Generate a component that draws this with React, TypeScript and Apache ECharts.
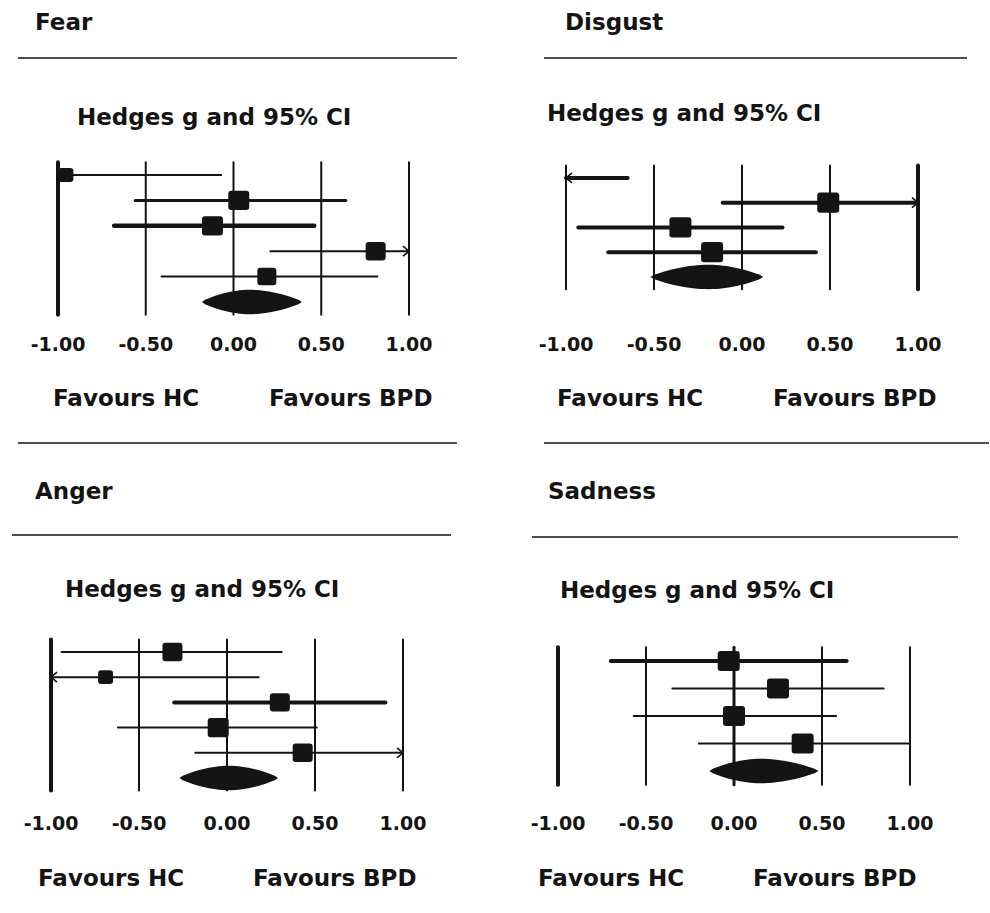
import React, { useEffect, useRef } from "react";
import * as echarts from "echarts";

// ---------- data ----------
const TICKS = [-1, -0.5, 0, 0.5, 1];

// Fear
const fearG = [-0.955, 0.03, -0.12, 0.81, 0.19];
const fearLo = [-1.0, -0.56, -0.68, 0.21, -0.41];
const fearHi = [-0.07, 0.64, 0.46, 1.15, 0.82];
const fearWeight = [15, 21, 21, 20, 19];
const fearPooled = [0.09, -0.18, 0.39];

// Disgust
const disgustG = [-1.25, 0.49, -0.35, -0.17];
const disgustLo = [-1.6, -0.11, -0.93, -0.76];
const disgustHi = [-0.65, 1.2, 0.23, 0.42];
const disgustWeight = [16, 22, 22, 22];
const disgustPooled = [-0.19, -0.52, 0.12];

// Anger
const angerG = [-0.31, -0.69, 0.3, -0.05, 0.43];
const angerLo = [-0.94, -1.2, -0.3, -0.62, -0.18];
const angerHi = [0.31, 0.18, 0.9, 0.51, 1.15];
const angerWeight = [20, 15, 20, 21, 20];
const angerPooled = [0.01, -0.27, 0.29];

// Sadness
const sadnessG = [-0.03, 0.25, 0.0, 0.39];
const sadnessLo = [-0.7, -0.35, -0.57, -0.2];
const sadnessHi = [0.64, 0.85, 0.58, 1.0];
const sadnessWeight = [22, 22, 22, 22];
const sadnessPooled = [0.15, -0.14, 0.48];

const TITLE_TEXT = ["Fear", "Disgust", "Anger", "Sadness"];
const HEDGES = "Hedges g and 95% CI";
const FAV_HC = "Favours HC";
const FAV_BPD = "Favours BPD";

// ---------- layout / style ----------
const INK = "#141414";
const FONT = "DejaVu Sans";

const panels = [
  {
    name: TITLE_TEXT[0], g: fearG, lo: fearLo, hi: fearHi, w: fearWeight, pooled: fearPooled,
    grid: { left: 58, top: 162.3, width: 351, height: 152.4 }, labelMargin: 20,
    refW: [4, 2, 2, 2, 2], ciW: [2, 3, 4.5, 2, 2],
    title: [35, 22], rule: [18, 457, 58], hedges: [77, 117], favHC: [53, 398], favBPD: [269, 398],
    bottomRule: [18, 457, 443],
  },
  {
    name: TITLE_TEXT[1], g: disgustG, lo: disgustLo, hi: disgustHi, w: disgustWeight, pooled: disgustPooled,
    grid: { left: 566, top: 165.6, width: 352, height: 123.75 }, labelMargin: 45,
    refW: [2, 2, 2, 2, 4], ciW: [4, 4, 4, 4],
    title: [565, 22], rule: [544, 967, 58], hedges: [547, 113], favHC: [557, 398], favBPD: [773, 398],
    bottomRule: [544, 989, 443],
  },
  {
    name: TITLE_TEXT[2], g: angerG, lo: angerLo, hi: angerHi, w: angerWeight, pooled: angerPooled,
    grid: { left: 51, top: 639.4, width: 352, height: 151.2 }, labelMargin: 23,
    refW: [4, 2, 2, 2, 2], ciW: [2, 2, 4, 2, 2],
    title: [35, 491], rule: [12, 451, 535], hedges: [65, 589], favHC: [38, 878], favBPD: [253, 878],
    bottomRule: null,
  },
  {
    name: TITLE_TEXT[3], g: sadnessG, lo: sadnessLo, hi: sadnessHi, w: sadnessWeight, pooled: sadnessPooled,
    grid: { left: 558, top: 647.25, width: 352, height: 137.5 }, labelMargin: 29,
    refW: [4, 2, 3, 2, 2], ciW: [4, 2, 2, 2],
    title: [548, 491], rule: [532, 958, 537], hedges: [560, 590], favHC: [538, 878], favBPD: [753, 878],
    bottomRule: null,
  },
];

function textEl(text: string, x: number, y: number, size: number) {
  return {
    type: "text",
    x, y,
    style: {
      text, fill: INK, fontFamily: FONT, fontWeight: "bold", fontSize: size,
      verticalAlign: "middle", align: "left",
    },
  };
}
function ruleEl(x1: number, x2: number, y: number) {
  return {
    type: "line",
    shape: { x1, y1: y, x2, y2: y },
    style: { stroke: INK, lineWidth: 1.6 },
  };
}

export default function App() {
  const ref = useRef<HTMLDivElement>(null);
  useEffect(() => {
    if (!ref.current) return;
    const chart = echarts.init(ref.current, null, { renderer: "svg" });

    const grid: any[] = [];
    const xAxis: any[] = [];
    const yAxis: any[] = [];
    const series: any[] = [];
    const graphic: any[] = [];

    panels.forEach((p, i) => {
      const n = p.g.length;
      const yMin = 0.5;
      const yMax = n + 1.5;
      grid.push({ ...p.grid });
      xAxis.push({
        type: "value", gridIndex: i, min: -1, max: 1, interval: 0.5,
        axisLine: { show: false }, axisTick: { show: false }, splitLine: { show: false },
        axisLabel: {
          show: true, margin: p.labelMargin, color: INK, fontFamily: FONT, fontWeight: "bold", fontSize: 19,
          showMinLabel: true, showMaxLabel: true,
          formatter: (v: number) => v.toFixed(2),
        },
      });
      yAxis.push({ type: "value", gridIndex: i, min: yMin, max: yMax, inverse: true, show: false });

      // reference vertical lines
      series.push({
        type: "custom", xAxisIndex: i, yAxisIndex: i, clip: false, silent: true,
        data: TICKS.map((t, k) => [t, p.refW[k]]),
        renderItem: (params: any, api: any) => {
          const t = api.value(0);
          const a = api.coord([t, yMin]);
          const b = api.coord([t, yMax]);
          return {
            type: "line",
            shape: { x1: a[0], y1: a[1], x2: b[0], y2: b[1] },
            style: { stroke: INK, lineWidth: api.value(1), lineCap: "round" },
          };
        },
      });

      // study rows
      series.push({
        type: "custom", xAxisIndex: i, yAxisIndex: i, clip: false, silent: true,
        data: p.g.map((g, k) => [k + 1, g, p.lo[k], p.hi[k], p.w[k], p.ciW[k]]),
        renderItem: (params: any, api: any) => {
          const row = api.value(0), g = api.value(1), lo = api.value(2), hi = api.value(3);
          const w = api.value(4), lw = api.value(5);
          const loC = Math.max(lo, -1), hiC = Math.min(hi, 1);
          const pL = api.coord([loC, row]);
          const pR = api.coord([hiC, row]);
          const children: any[] = [
            {
              type: "line",
              shape: { x1: pL[0], y1: pL[1], x2: pR[0], y2: pR[1] },
              style: { stroke: INK, lineWidth: lw, lineCap: "round" },
            },
          ];
          if (lo < -1) {
            children.push({
              type: "polyline",
              shape: { points: [[pL[0] + 6, pL[1] - 5], [pL[0], pL[1]], [pL[0] + 6, pL[1] + 5]] },
              style: { stroke: INK, lineWidth: 1.6, fill: "none" },
            });
          }
          if (hi > 1) {
            children.push({
              type: "polyline",
              shape: { points: [[pR[0] - 6, pR[1] - 5], [pR[0], pR[1]], [pR[0] - 6, pR[1] + 5]] },
              style: { stroke: INK, lineWidth: 1.6, fill: "none" },
            });
          }
          if (g >= -1 && g <= 1) {
            const c = api.coord([g, row]);
            const h = w * 0.92;
            children.push({
              type: "rect",
              shape: { x: c[0] - w / 2, y: c[1] - h / 2, width: w, height: h, r: 3 },
              style: { fill: INK },
            });
          }
          return { type: "group", children };
        },
      });

      // pooled diamond
      series.push({
        type: "custom", xAxisIndex: i, yAxisIndex: i, clip: false, silent: true,
        data: [[n + 1, p.pooled[0], p.pooled[1], p.pooled[2]]],
        renderItem: (params: any, api: any) => {
          const row = api.value(0), c = api.value(1), lo = api.value(2), hi = api.value(3);
          const pc = api.coord([c, row]);
          const pl = api.coord([lo, row]);
          const pr = api.coord([hi, row]);
          const H = 11;
          const top: number[][] = [];
          const bot: number[][] = [];
          const N = 30;
          for (let k = 0; k <= N; k++) {
            const u = -1 + (2 * k) / N;
            const x = u < 0 ? pc[0] + u * (pc[0] - pl[0]) : pc[0] + u * (pr[0] - pc[0]);
            const hh = H * Math.pow(1 - u * u, 1.1) + (Math.abs(u) < 1 ? 1.2 : 0);
            top.push([x, pc[1] - hh]);
            bot.push([x, pc[1] + hh]);
          }
          const pts = top.concat(bot.reverse());
          return { type: "polygon", shape: { points: pts }, style: { fill: INK } };
        },
      });

      graphic.push(textEl(p.name, p.title[0], p.title[1], 23));
      graphic.push(ruleEl(p.rule[0], p.rule[1], p.rule[2]));
      graphic.push(textEl(HEDGES, p.hedges[0], p.hedges[1], 23));
      graphic.push(textEl(FAV_HC, p.favHC[0], p.favHC[1], 23));
      graphic.push(textEl(FAV_BPD, p.favBPD[0], p.favBPD[1], 23));
      if (p.bottomRule) graphic.push(ruleEl(p.bottomRule[0], p.bottomRule[1], p.bottomRule[2]));
    });

    chart.setOption({
      animation: false,
      backgroundColor: "#ffffff",
      grid, xAxis, yAxis, series, graphic,
    });
    return () => chart.dispose();
  }, []);

  return (
    <div
      ref={ref}
      style={{ position: "absolute", left: 0, top: 0, width: 990, height: 913, background: "#fff" }}
    />
  );
}
